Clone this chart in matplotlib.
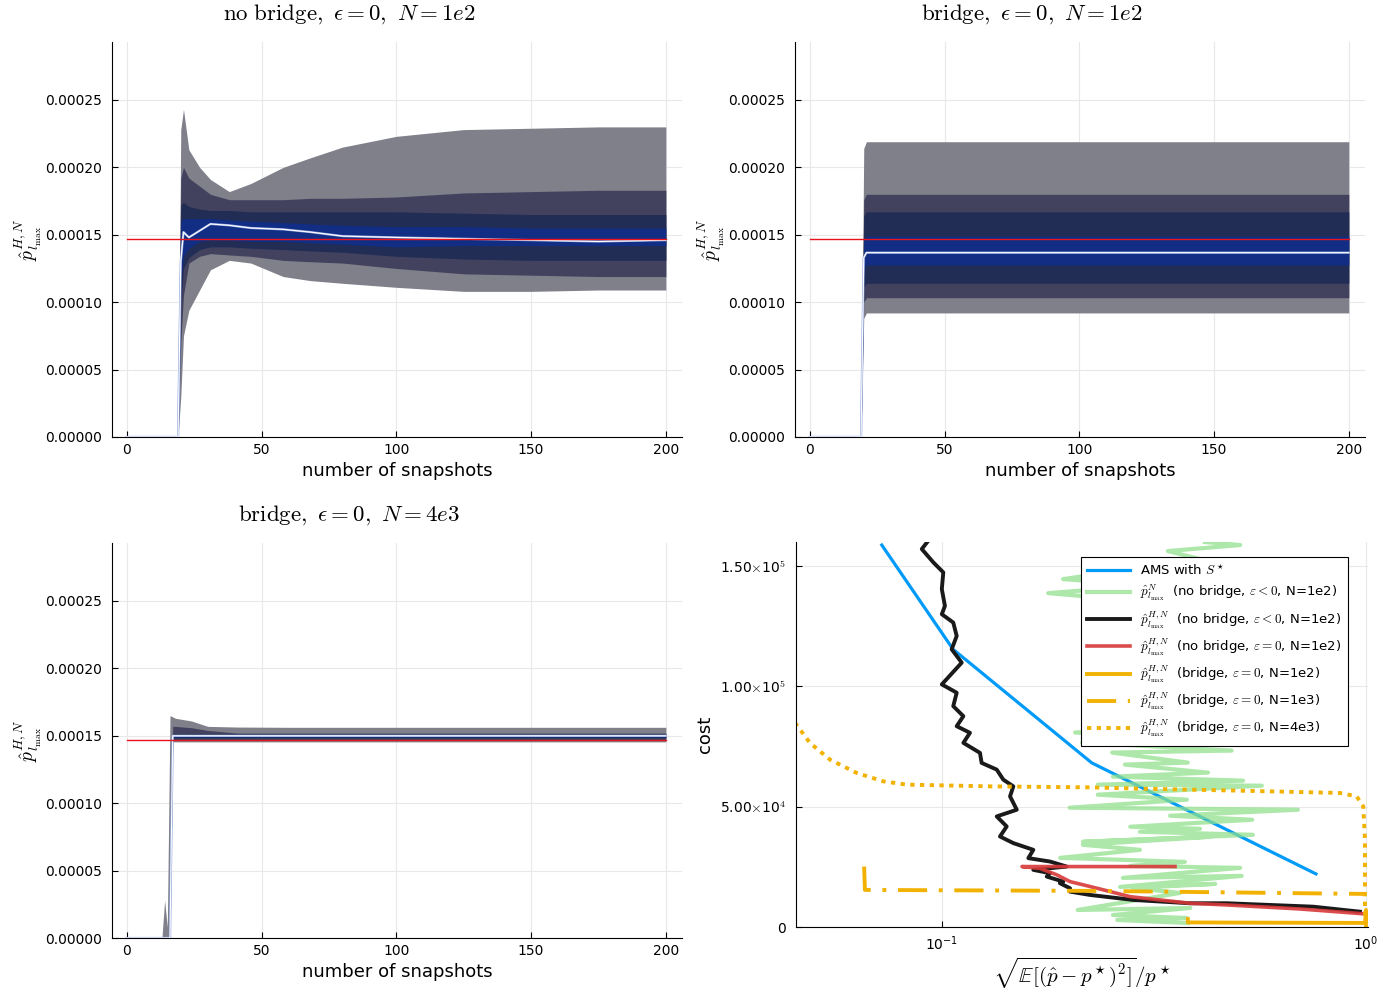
import matplotlib
matplotlib.use('Agg')
import matplotlib.pyplot as plt
from matplotlib.lines import Line2D
from matplotlib.ticker import NullLocator

plt.rcParams['mathtext.fontset'] = 'cm'
plt.rcParams['font.family'] = ['DejaVu Sans']

P_REF = 0.0001467

# ---------- no bridge, eps=0, N=1e2 ----------
snap_a = [0, 19, 20, 21, 23, 27, 31, 38, 46, 58, 68, 80, 100, 125, 150, 175, 200]
a_q1_hi = [0, 0, 0.000228, 0.000243, 0.000213, 0.000200, 0.000191, 0.000182, 0.000188, 0.000200,
           0.000207, 0.000215, 0.000223, 0.000228, 0.000229, 0.000230, 0.000230]
a_q1_lo = [0, 0, 0.000030, 0.000075, 0.000094, 0.000109, 0.000124, 0.000131, 0.000129, 0.000119,
           0.000116, 0.000114, 0.000111, 0.000108, 0.000108, 0.000109, 0.000109]
a_q2_hi = [0, 0, 0.000192, 0.000200, 0.000192, 0.000186, 0.000180, 0.000176, 0.000176, 0.000176,
           0.000177, 0.000177, 0.000178, 0.000181, 0.000182, 0.000183, 0.000183]
a_q2_lo = [0, 0, 0.000070, 0.000105, 0.000129, 0.000134, 0.000136, 0.000135, 0.000134, 0.000131,
           0.000130, 0.000129, 0.000125, 0.000121, 0.000120, 0.000119, 0.000119]
a_q3_hi = [0, 0, 0.000172, 0.000174, 0.000171, 0.000169, 0.000168, 0.000168, 0.000167, 0.000167,
           0.000167, 0.000167, 0.000167, 0.000166, 0.000165, 0.000165, 0.000165]
a_q3_lo = [0, 0, 0.000100, 0.000125, 0.000133, 0.000139, 0.000141, 0.000141, 0.000140, 0.000139,
           0.000138, 0.000137, 0.000134, 0.000132, 0.000131, 0.000131, 0.000131]
a_q4_hi = [0, 0, 0.000160, 0.000162, 0.000162, 0.000162, 0.000162, 0.000161, 0.000160, 0.000159,
           0.000158, 0.000157, 0.000156, 0.000156, 0.000155, 0.000155, 0.000155]
a_q4_lo = [0, 0, 0.000115, 0.000134, 0.000140, 0.000145, 0.000146, 0.000146, 0.000145, 0.000145,
           0.000144, 0.000143, 0.000141, 0.000142, 0.000142, 0.000142, 0.000142]
a_mean = [0, 0, 0.000130, 0.000152, 0.000148, 0.000153, 0.000158, 0.000157, 0.000155, 0.000154,
          0.000152, 0.000149, 0.000148, 0.000147, 0.000146, 0.000145, 0.000146]

# ---------- bridge, eps=0, N=1e2 ----------
snap_b = [0, 19, 20, 21, 200]
b_q1_hi = [0, 0, 0.000214, 0.000219, 0.000219]
b_q1_lo = [0, 0, 0.000088, 0.0000920, 0.0000920]
b_q2_hi = [0, 0, 0.000176, 0.000180, 0.000180]
b_q2_lo = [0, 0, 0.000100, 0.0001033, 0.0001033]
b_q3_hi = [0, 0, 0.000164, 0.000167, 0.000167]
b_q3_lo = [0, 0, 0.000111, 0.000114, 0.000114]
b_q4_hi = [0, 0, 0.000147, 0.000149, 0.000149]
b_q4_lo = [0, 0, 0.000124, 0.0001276, 0.0001276]
b_mean = [0, 0, 0.000133, 0.0001367, 0.0001367]

# ---------- bridge, eps=0, N=4e3 ----------
snap_c = [0, 13, 14, 15, 16, 17, 18, 24, 30, 41, 60, 100, 200]
c_q1_hi = [0, 0, 0.000028, 0.000008, 0.000165, 0.000164, 0.000163, 0.000161, 0.000157, 0.0001565,
           0.0001563, 0.0001563, 0.0001563]
c_q1_lo = [0, 0, 0, 0, 0, 0.0001455, 0.0001455, 0.0001455, 0.0001455, 0.0001455, 0.0001455,
           0.0001455, 0.0001455]
c_q2_hi = [0, 0, 0, 0, 0, 0.000157, 0.000157, 0.000156, 0.000154, 0.000152, 0.000152, 0.000152, 0.000152]
c_q2_lo = [0, 0, 0, 0, 0, 0.000147, 0.000147, 0.000147, 0.000147, 0.000147, 0.000147, 0.000147, 0.000147]
c_q3_hi = [0, 0, 0, 0, 0, 0.0001515, 0.0001515, 0.0001515, 0.0001515, 0.0001515, 0.0001515,
           0.0001515, 0.0001515]
c_q3_lo = [0, 0, 0, 0, 0, 0.0001485, 0.0001485, 0.0001485, 0.0001485, 0.0001485, 0.0001485,
           0.0001485, 0.0001485]
c_q4_hi = [0, 0, 0, 0, 0, 0.000151, 0.000151, 0.000151, 0.000151, 0.000151, 0.000151, 0.000151, 0.000151]
c_q4_lo = [0, 0, 0, 0, 0, 0.000149, 0.000149, 0.000149, 0.000149, 0.000149, 0.000149, 0.000149, 0.000149]
c_mean = [0, 0, 0, 0, 0, 0.000150, 0.000150, 0.000150, 0.000150, 0.000150, 0.000150, 0.000150, 0.000150]

# ---------- cost vs relative error ----------
ams_err = [0.0721, 0.1062, 0.2256, 0.762]
ams_cost = [158750, 115400, 68200, 22080]

nb_neg_err = [0.417, 0.505, 0.341, 0.406, 0.193, 0.309, 0.178, 0.364, 0.223, 0.478, 0.249, 0.533,
              0.263, 0.406, 0.206, 0.385, 0.214, 0.482, 0.252, 0.380, 0.270, 0.424, 0.253, 0.513,
              0.233, 0.568, 0.233, 0.378, 0.200, 0.691, 0.345, 0.539, 0.278, 0.406, 0.293, 0.541,
              0.215, 0.429, 0.215, 0.293, 0.190, 0.374, 0.278, 0.505, 0.267, 0.509, 0.263, 0.441,
              0.282, 0.364, 0.209, 0.385, 0.253, 0.378, 0.259, 0.380]
nb_neg_cost = [160000, 158750, 156250, 152920, 144580, 142080, 138750, 134170, 125830, 117500,
               107080, 98750, 89580, 84170, 80830, 78750, 76670, 73330, 72500, 68330, 67500, 64170,
               62500, 60830, 59170, 58750, 55000, 52920, 49580, 48750, 46250, 44580, 41670, 40830,
               39580, 38330, 35420, 37500, 34170, 32080, 28750, 27080, 25420, 24580, 20420, 21250,
               16670, 17920, 16250, 14170, 7080, 7920, 5000, 3750, 2920, 1670]

nbH_neg_err = [0.0928, 0.0896, 0.0954, 0.1007, 0.0999, 0.1016, 0.0999, 0.1063, 0.1083, 0.1054,
               0.1113, 0.0999, 0.1083, 0.1063, 0.1123, 0.1083, 0.1164, 0.1123, 0.1229, 0.1240,
               0.1346, 0.1395, 0.1473, 0.1447, 0.1501, 0.1346, 0.1421, 0.1370, 0.1473, 0.1642,
               0.1598, 0.1798, 0.1968, 0.1642, 0.1798, 0.1766, 0.1932, 0.1897, 0.2004, 0.2004,
               0.2234, 0.2827, 0.3846, 0.470, 0.750, 0.968]
nbH_neg_cost = [160540, 157080, 151540, 147375, 140420, 133460, 130000, 126540, 120960, 115420,
                109875, 100830, 97375, 91790, 87625, 83460, 80710, 76540, 72375, 68210, 65420,
                61250, 58460, 54290, 48750, 45960, 41790, 37625, 34875, 32080, 28625, 27210,
                25125, 23750, 22375, 20960, 18875, 18210, 16125, 14710, 13333, 11250, 9875, 9875,
                8460, 6375]

nbH_zero_err = [0.3544, 0.1544, 0.1703, 0.1867, 0.2004, 0.2320, 0.2776, 0.3846, 0.470, 0.6987, 1.0]
nbH_zero_cost = [25125, 25125, 24375, 21667, 18875, 16125, 12625, 9875, 9167, 7500, 5417]

br_1e2_err = [0.380, 0.380, 0.995, 1.0, 1.0]
br_1e2_cost = [3300, 1900, 1700, 7100, 300]

br_1e3_err = [0.0655, 0.0658, 0.2358, 0.9945]
br_1e3_cost = [25125, 15417, 15000, 13750]

br_4e3_err = [0.0450, 0.0488, 0.0544, 0.0629, 0.0727, 0.0826, 0.1298, 0.2234, 0.2931, 0.5045,
              0.8683, 0.9507, 0.9854, 0.9945, 0.9945]
br_4e3_cost = [84875, 76540, 69583, 64040, 60540, 59170, 58460, 58040, 57500, 56670, 55710,
               54290, 50125, 36250, 1670]

cost_ticks = [0, 50000, 100000, 150000]
cost_labels = ['0', r'5.00$\times$10$^{4}$', r'1.00$\times$10$^{5}$', r'1.50$\times$10$^{5}$']

BAND_COLORS = ['#80808b', '#42425f', '#222d56', '#112e84']
YLABEL = r'$\hat{p}^{H,N}_{l_{\max}}$'


def style(ax):
    ax.spines['top'].set_visible(False)
    ax.spines['right'].set_visible(False)
    ax.tick_params(direction='in', labelsize=10, length=4, pad=7)
    ax.grid(True, color='#e8e8e8', lw=0.8)
    ax.set_axisbelow(True)


def snapshot_panel(ax, x, bands, mean, title):
    for (lo, hi), c in zip(bands, BAND_COLORS):
        ax.fill_between(x, lo, hi, color=c, lw=0, zorder=2)
    ax.plot(x, mean, color='#8fa3dc', lw=1.6, zorder=3)
    ax.plot(x, mean, color='white', lw=0.8, zorder=4)
    ax.plot([x[0], x[-1]], [P_REF, P_REF], color='#e8141c', lw=1.0, zorder=5)
    style(ax)
    ax.set_xlim(-5.5, 206)
    ax.set_ylim(0, 0.000293)
    ax.set_xticks([0, 50, 100, 150, 200])
    ax.set_yticks([0, 0.00005, 0.0001, 0.00015, 0.0002, 0.00025])
    ax.set_yticklabels(['%.5f' % v for v in ax.get_yticks()])
    ax.tick_params(axis='x', pad=4)
    ax.set_xlabel('number of snapshots', fontsize=13, labelpad=4)
    ax.set_ylabel(YLABEL, fontsize=14, labelpad=1)
    ax.set_title(title, fontsize=16.5, pad=16, x=0.416)


fig = plt.figure(figsize=(13.87, 9.92), dpi=100)
ax1 = fig.add_axes([0.0808, 0.5595, 0.4109, 0.3982])
ax2 = fig.add_axes([0.5732, 0.5595, 0.4109, 0.3982])
ax3 = fig.add_axes([0.0808, 0.0544, 0.4109, 0.3982])
ax4 = fig.add_axes([0.5739, 0.0655, 0.4124, 0.3881])

snapshot_panel(ax1, snap_a,
               [(a_q1_lo, a_q1_hi), (a_q2_lo, a_q2_hi), (a_q3_lo, a_q3_hi), (a_q4_lo, a_q4_hi)],
               a_mean, r'$\mathrm{no\ bridge,}\ \epsilon = 0,\ N = 1e2$')
snapshot_panel(ax2, snap_b,
               [(b_q1_lo, b_q1_hi), (b_q2_lo, b_q2_hi), (b_q3_lo, b_q3_hi), (b_q4_lo, b_q4_hi)],
               b_mean, r'$\mathrm{bridge,}\ \epsilon = 0,\ N = 1e2$')
snapshot_panel(ax3, snap_c,
               [(c_q1_lo, c_q1_hi), (c_q2_lo, c_q2_hi), (c_q3_lo, c_q3_hi), (c_q4_lo, c_q4_hi)],
               c_mean, r'$\mathrm{bridge,}\ \epsilon = 0,\ N = 4e3$')

# cost panel
BLUE = '#009af9'
GREEN = '#8ee08a'
YELLOW = '#f2b204'
RED = '#d83a3a'
ax4.plot(ams_err, ams_cost, color=BLUE, lw=2.3)
ax4.plot(nb_neg_err, nb_neg_cost, color=GREEN, lw=3.0, alpha=0.72)
ax4.plot(nbH_neg_err, nbH_neg_cost, color='#1a1a1a', lw=2.8)
ax4.plot(nbH_zero_err, nbH_zero_cost, color=RED, lw=2.6, alpha=0.9)
ax4.plot(br_1e2_err, br_1e2_cost, color=YELLOW, lw=2.8)
ax4.plot(br_1e3_err, br_1e3_cost, color=YELLOW, lw=2.8, ls=(0, (7.5, 3, 1, 3)))
ax4.plot(br_4e3_err, br_4e3_cost, color=YELLOW, lw=2.8, ls=(0, (1.1, 1.4)))
ax4.set_xscale('log')
ax4.set_xlim(0.04525, 1.011)
ax4.set_ylim(0, 160000)
ax4.xaxis.set_minor_locator(NullLocator())
ax4.set_yticks(cost_ticks)
ax4.set_yticklabels(cost_labels)
style(ax4)
ax4.tick_params(axis='x', pad=5)
ax4.set_ylabel('cost', fontsize=13, labelpad=4)
ax4.set_xlabel(r'$\sqrt{\mathbb{E}[(\hat{p} - p^\star)^2]}/p^\star$', fontsize=15, labelpad=2)

handles = [
    Line2D([], [], color=BLUE, lw=2.3),
    Line2D([], [], color=GREEN, lw=3.0, alpha=0.72),
    Line2D([], [], color='#1a1a1a', lw=2.8),
    Line2D([], [], color=RED, lw=2.6, alpha=0.9),
    Line2D([], [], color=YELLOW, lw=2.8),
    Line2D([], [], color=YELLOW, lw=2.8, ls=(0, (7.5, 3, 1, 3))),
    Line2D([], [], color=YELLOW, lw=2.8, ls=(0, (1.1, 1.4))),
]
labels = [
    r'AMS with $S^\star$',
    r'$\hat{p}^{N}_{l_{\max}}$  (no bridge, $\varepsilon < 0$, N=1e2)',
    r'$\hat{p}^{H,N}_{l_{\max}}$  (no bridge, $\varepsilon < 0$, N=1e2)',
    r'$\hat{p}^{H,N}_{l_{\max}}$  (no bridge, $\varepsilon = 0$, N=1e2)',
    r'$\hat{p}^{H,N}_{l_{\max}}$  (bridge, $\varepsilon = 0$, N=1e2)',
    r'$\hat{p}^{H,N}_{l_{\max}}$  (bridge, $\varepsilon = 0$, N=1e3)',
    r'$\hat{p}^{H,N}_{l_{\max}}$  (bridge, $\varepsilon = 0$, N=4e3)',
]
leg = ax4.legend(handles, labels, loc='upper right', bbox_to_anchor=(0.965, 0.962),
                 borderaxespad=0, fontsize=9.5, fancybox=False, framealpha=1,
                 edgecolor='black', handlelength=3.2, labelspacing=0.4, borderpad=0.5)
leg.get_frame().set_linewidth(0.8)

fig.savefig('out.png', dpi=100)
